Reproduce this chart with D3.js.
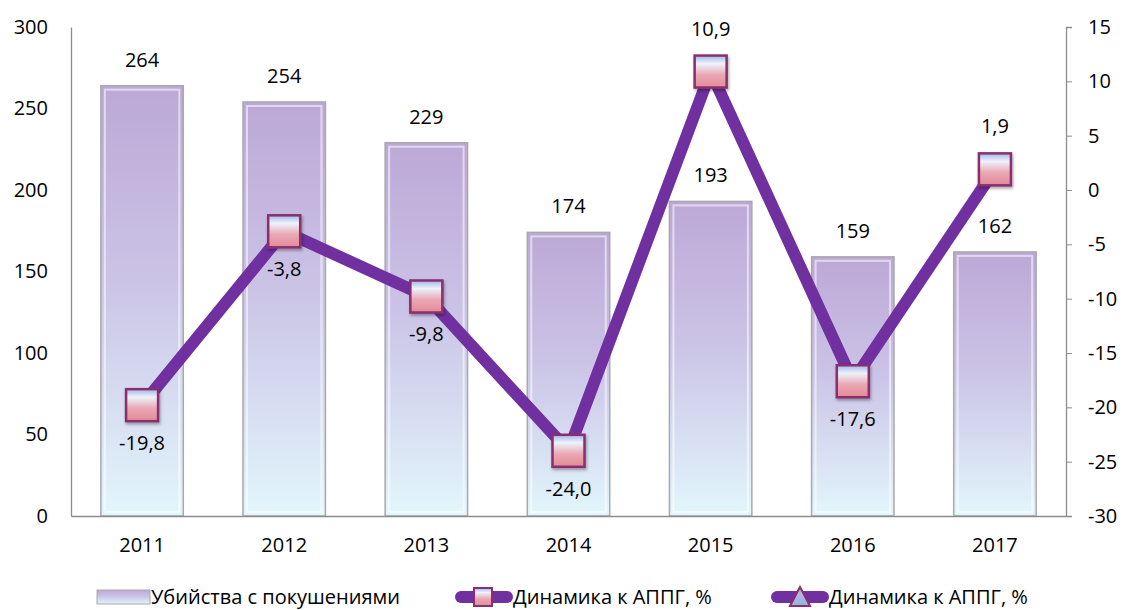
<!DOCTYPE html>
<html>
<head>
<meta charset="utf-8">
<script src="https://cdn.jsdelivr.net/npm/d3@7"></script>
<style>
  body { margin: 0; background: #fff; }
  text { font-family: "Open Sans", "Noto Sans", sans-serif; fill: #000; }
</style>
</head>
<body>
<svg id="chart"></svg>
<script>
var svg_width = 1126;
var svg_height = 610;

// data
var years = ['2011', '2012', '2013', '2014', '2015', '2016', '2017'];
var murders = [264, 254, 229, 174, 193, 159, 162];
var dynamics = [-19.8, -3.8, -9.8, -24.0, 10.9, -17.6, 1.9];
var left_ticks = [0, 50, 100, 150, 200, 250, 300];
var right_ticks = [-30, -25, -20, -15, -10, -5, 0, 5, 10, 15];
var legend_labels = ['Убийства с покушениями', 'Динамика к АППГ, %', 'Динамика к АППГ, %'];

var plot = {left: 71, right: 1066, top: 27, bottom: 516};
var font_size = '20px';

var svg = d3.select('#chart')
  .attr('width', svg_width)
  .attr('height', svg_height);

var defs = svg.append('defs');

var barGrad = defs.append('linearGradient')
  .attr('id', 'barGrad')
  .attr('x1', 0).attr('y1', 0).attr('x2', 0).attr('y2', 1);
barGrad.append('stop').attr('offset', '0%').attr('stop-color', '#bca8d6');
barGrad.append('stop').attr('offset', '45%').attr('stop-color', '#cbc3e6');
barGrad.append('stop').attr('offset', '100%').attr('stop-color', '#e2f6fc');

var markGrad = defs.append('linearGradient')
  .attr('id', 'markGrad')
  .attr('x1', 0).attr('y1', 0).attr('x2', 0).attr('y2', 1);
markGrad.append('stop').attr('offset', '0%').attr('stop-color', '#9fb6e8');
markGrad.append('stop').attr('offset', '25%').attr('stop-color', '#eef2fb');
markGrad.append('stop').attr('offset', '60%').attr('stop-color', '#e8a8b4');
markGrad.append('stop').attr('offset', '100%').attr('stop-color', '#e48a96');

var triGrad = defs.append('linearGradient')
  .attr('id', 'triGrad')
  .attr('x1', 0).attr('y1', 0).attr('x2', 0).attr('y2', 1);
triGrad.append('stop').attr('offset', '0%').attr('stop-color', '#c9b6e4');
triGrad.append('stop').attr('offset', '100%').attr('stop-color', '#8fb4e4');

var shadow = defs.append('filter').attr('id', 'shadow')
  .attr('x', '-30%').attr('y', '-30%').attr('width', '160%').attr('height', '160%');
shadow.append('feDropShadow').attr('dx', 1).attr('dy', 2).attr('stdDeviation', 1.5)
  .attr('flood-color', '#000').attr('flood-opacity', 0.35);

function fmt(d) {
  return(String(d).replace('.', ','));
}

//Set up the scales
var xScale = d3.scaleBand().domain(years).range([plot.left, plot.right]).paddingInner(0.42).paddingOuter(0.21);
var xCenter = d3.scaleBand().domain(years).range([plot.left, plot.right]);
var yLeft = d3.scaleLinear().domain([0, 300]).range([plot.bottom, plot.top]);
var yRight = d3.scaleLinear().domain([-30, 15]).range([plot.bottom, plot.top]);

// left axis
var leftAxis = svg.append('g')
  .attr('transform', 'translate(' + plot.left + ',0)')
  .call(d3.axisLeft(yLeft).tickValues(left_ticks).tickSize(0).tickPadding(23).tickFormat(fmt));
leftAxis.select('.domain').attr('stroke', '#8c8c8c').attr('stroke-width', 1.3);
leftAxis.selectAll('text').style('font-size', font_size).attr('font-family', null);

// right axis
var rightAxis = svg.append('g')
  .attr('transform', 'translate(' + plot.right + ',0)')
  .call(d3.axisRight(yRight).tickValues(right_ticks).tickSize(6).tickSizeOuter(6).tickPadding(16).tickFormat(fmt));
rightAxis.select('.domain').attr('stroke', '#8c8c8c').attr('stroke-width', 1.3);
rightAxis.selectAll('.tick line').attr('stroke', '#8c8c8c');
rightAxis.selectAll('text').style('font-size', font_size).attr('font-family', null)
  .attr('text-anchor', 'start');

// bars
var bars = svg.append('g').selectAll('g.bar')
  .data(murders)
  .enter()
  .append('g')
  .classed('bar', true);

bars.append('rect')
  .attr('x', function(d, i) {return(xScale(years[i]));})
  .attr('y', function(d) {return(yLeft(d));})
  .attr('width', xScale.bandwidth())
  .attr('height', function(d) {return(yLeft(0) - yLeft(d));})
  .attr('fill', 'url(#barGrad)')
  .attr('stroke', '#a9a9ad')
  .attr('stroke-width', 1.5);

// bevel highlight
bars.append('rect')
  .attr('x', function(d, i) {return(xScale(years[i]) + 4);})
  .attr('y', function(d) {return(yLeft(d) + 4);})
  .attr('width', xScale.bandwidth() - 8)
  .attr('height', function(d) {return(yLeft(0) - yLeft(d) - 8);})
  .attr('fill', 'none')
  .attr('stroke', '#ffffff')
  .attr('stroke-opacity', 0.55)
  .attr('stroke-width', 2);

bars.append('text')
  .attr('x', function(d, i) {return(xCenter(years[i]) + xCenter.bandwidth() / 2);})
  .attr('y', function(d) {return(yLeft(d) - 19);})
  .attr('text-anchor', 'middle')
  .style('font-size', font_size)
  .text(function(d) {return(d);});

// bottom axis
var bottomAxis = svg.append('g')
  .attr('transform', 'translate(0,' + plot.bottom + ')')
  .call(d3.axisBottom(xCenter).tickSize(0).tickSizeOuter(0).tickPadding(22));
bottomAxis.select('.domain').attr('stroke', '#8c8c8c').attr('stroke-width', 1.5);
bottomAxis.selectAll('text').style('font-size', font_size).attr('font-family', null);

// line
var line = d3.line()
  .x(function(d, i) {return(xCenter(years[i]) + xCenter.bandwidth() / 2);})
  .y(function(d) {return(yRight(d));});

svg.append('path')
  .datum(dynamics)
  .attr('d', line)
  .attr('fill', 'none')
  .attr('stroke', '#7030a0')
  .attr('stroke-width', 12)
  .attr('stroke-linejoin', 'miter');

var mark = 32;
svg.append('g').selectAll('rect.marker')
  .data(dynamics)
  .enter()
  .append('rect')
  .classed('marker', true)
  .attr('x', function(d, i) {return(xCenter(years[i]) + xCenter.bandwidth() / 2 - mark / 2);})
  .attr('y', function(d) {return(yRight(d) - mark / 2);})
  .attr('width', mark)
  .attr('height', mark)
  .attr('fill', 'url(#markGrad)')
  .attr('stroke', '#8a2e6e')
  .attr('stroke-width', 2.5)
  .attr('filter', 'url(#shadow)');

svg.append('g').selectAll('text.dyn')
  .data(dynamics)
  .enter()
  .append('text')
  .classed('dyn', true)
  .attr('x', function(d, i) {return(xCenter(years[i]) + xCenter.bandwidth() / 2);})
  .attr('y', function(d) {return(d >= 0 ? yRight(d) - 36 : yRight(d) + 45);})
  .attr('text-anchor', 'middle')
  .style('font-size', font_size)
  .text(function(d) {return(d3.format('.1f')(d).replace('.', ',').replace('−', '-'));});

// legend
var legend = svg.append('g').attr('transform', 'translate(0,597)');

legend.append('rect')
  .attr('x', 97).attr('y', -7).attr('width', 53).attr('height', 14)
  .attr('fill', 'url(#barGrad)')
  .attr('stroke', '#a9a9ad').attr('stroke-width', 1);
legend.append('text').attr('x', 151).attr('y', 7).style('font-size', font_size).text(legend_labels[0]);

legend.append('line')
  .attr('x1', 461).attr('x2', 507).attr('y1', 0).attr('y2', 0)
  .attr('stroke', '#7030a0').attr('stroke-width', 12).attr('stroke-linecap', 'round');
legend.append('rect')
  .attr('x', 474).attr('y', -9).attr('width', 18).attr('height', 18)
  .attr('fill', 'url(#markGrad)').attr('stroke', '#8a2e6e').attr('stroke-width', 2);
legend.append('text').attr('x', 513).attr('y', 7).style('font-size', font_size).text(legend_labels[1]);

legend.append('line')
  .attr('x1', 777).attr('x2', 823).attr('y1', 0).attr('y2', 0)
  .attr('stroke', '#7030a0').attr('stroke-width', 12).attr('stroke-linecap', 'round');
legend.append('path')
  .attr('d', 'M800,-10 L810,9 L790,9 Z')
  .attr('fill', 'url(#triGrad)').attr('stroke', '#8a2e6e').attr('stroke-width', 2);
legend.append('text').attr('x', 829).attr('y', 7).style('font-size', font_size).text(legend_labels[2]);
</script>
</body>
</html>
